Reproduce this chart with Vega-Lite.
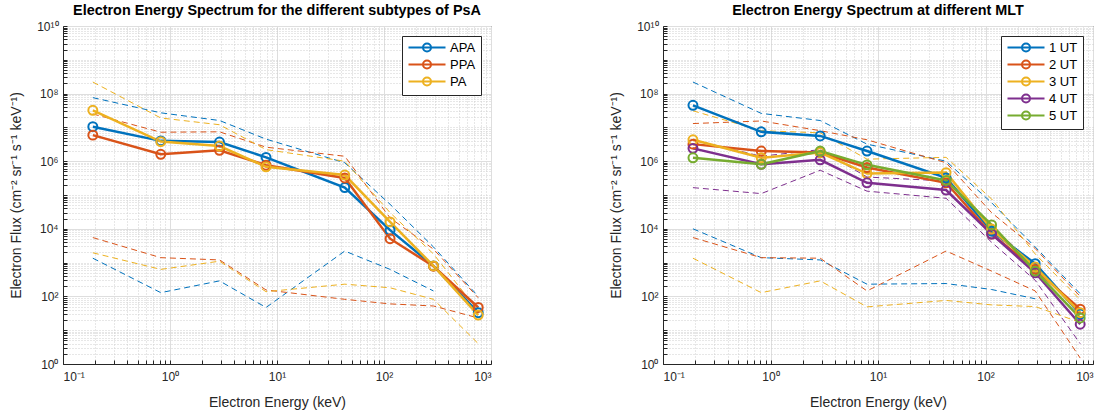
{
  "$schema": "https://vega.github.io/schema/vega-lite/v6.json",
  "padding": {"left": 9, "top": 2, "right": 0, "bottom": 2},
  "spacing": 117,
  "background": "white",
  "config": {
    "font": "Liberation Sans",
    "view": {"stroke": "#262626", "strokeWidth": 1},
    "axis": {"labelFontSize": 12, "titleFontSize": 14, "titleFontWeight": "normal", "labelColor": "#262626", "titleColor": "#262626", "domainColor": "#262626", "ticks": true, "tickSize": -4, "tickColor": "#262626", "labelOverlap": false, "labelPadding": 9},
    "title": {"fontSize": 14.4, "fontWeight": "bold", "color": "#000000", "offset": 2},
    "legend": {"orient": "top-right", "offset": 10, "fillColor": "white", "strokeColor": "#262626", "padding": 5, "symbolType": "M-1,0L6.4,0M3.5,0A0.8,0.8 0 1,1 1.9,0A0.8,0.8 0 1,1 3.5,0", "symbolSize": 100, "symbolStrokeWidth": 2, "symbolFillColor": "transparent", "labelOffset": 30, "labelFontSize": 13, "labelColor": "#000000", "rowPadding": 0}
  },
  "datasets": {
    "L": [
      {"s":"APA","k":"mean","e":0.19,"f":1.05e7},{"s":"APA","k":"mean","e":0.82,"f":4e6},{"s":"APA","k":"mean","e":2.9,"f":3.7e6},{"s":"APA","k":"mean","e":7.9,"f":1.3e6},{"s":"APA","k":"mean","e":43,"f":1.66e5},{"s":"APA","k":"mean","e":114,"f":9.1e3},{"s":"APA","k":"mean","e":290,"f":800},{"s":"APA","k":"mean","e":760,"f":33},
      {"s":"PPA","k":"mean","e":0.19,"f":5.9e6},{"s":"PPA","k":"mean","e":0.82,"f":1.6e6},{"s":"PPA","k":"mean","e":2.9,"f":2.1e6},{"s":"PPA","k":"mean","e":7.9,"f":7.6e5},{"s":"PPA","k":"mean","e":43,"f":3.2e5},{"s":"PPA","k":"mean","e":114,"f":5.1e3},{"s":"PPA","k":"mean","e":290,"f":780},{"s":"PPA","k":"mean","e":760,"f":47},
      {"s":"PA","k":"mean","e":0.19,"f":3.2e7},{"s":"PA","k":"mean","e":0.82,"f":3.8e6},{"s":"PA","k":"mean","e":2.9,"f":2.8e6},{"s":"PA","k":"mean","e":7.9,"f":6.8e5},{"s":"PA","k":"mean","e":43,"f":3.9e5},{"s":"PA","k":"mean","e":114,"f":1.6e4},{"s":"PA","k":"mean","e":290,"f":800},{"s":"PA","k":"mean","e":760,"f":28},
      {"s":"APA","k":"hi","e":0.19,"f":7.6e7},{"s":"APA","k":"hi","e":0.82,"f":2.7e7},{"s":"APA","k":"hi","e":2.9,"f":1.6e7},{"s":"APA","k":"hi","e":7.9,"f":4.5e6},{"s":"APA","k":"hi","e":43,"f":9e5},{"s":"APA","k":"hi","e":114,"f":5.3e4},{"s":"APA","k":"hi","e":290,"f":2.9e3},{"s":"APA","k":"hi","e":760,"f":100},
      {"s":"PPA","k":"hi","e":0.19,"f":2.5e7},{"s":"PPA","k":"hi","e":0.82,"f":7.2e6},{"s":"PPA","k":"hi","e":2.9,"f":7.4e6},{"s":"PPA","k":"hi","e":7.9,"f":2.6e6},{"s":"PPA","k":"hi","e":43,"f":1.4e6},{"s":"PPA","k":"hi","e":114,"f":2.1e4},{"s":"PPA","k":"hi","e":290,"f":2.5e3},{"s":"PPA","k":"hi","e":760,"f":91},
      {"s":"PA","k":"hi","e":0.19,"f":2.2e8},{"s":"PA","k":"hi","e":0.82,"f":1.9e7},{"s":"PA","k":"hi","e":2.9,"f":1.2e7},{"s":"PA","k":"hi","e":7.9,"f":2.2e6},{"s":"PA","k":"hi","e":43,"f":1e6},{"s":"PA","k":"hi","e":114,"f":3e4},{"s":"PA","k":"hi","e":290,"f":1.8e3},{"s":"PA","k":"hi","e":760,"f":37},
      {"s":"APA","k":"lo","e":0.19,"f":1.35e3},{"s":"APA","k":"lo","e":0.82,"f":129},{"s":"APA","k":"lo","e":2.9,"f":288},{"s":"APA","k":"lo","e":7.9,"f":47},{"s":"APA","k":"lo","e":43,"f":2.2e3},{"s":"APA","k":"lo","e":114,"f":630},{"s":"APA","k":"lo","e":290,"f":145},
      {"s":"PPA","k":"lo","e":0.19,"f":5.5e3},{"s":"PPA","k":"lo","e":0.82,"f":1.4e3},{"s":"PPA","k":"lo","e":2.9,"f":1.2e3},{"s":"PPA","k":"lo","e":7.9,"f":155},{"s":"PPA","k":"lo","e":43,"f":82},{"s":"PPA","k":"lo","e":114,"f":60},{"s":"PPA","k":"lo","e":290,"f":52},{"s":"PPA","k":"lo","e":760,"f":23},
      {"s":"PA","k":"lo","e":0.19,"f":1.95e3},{"s":"PA","k":"lo","e":0.82,"f":630},{"s":"PA","k":"lo","e":2.9,"f":1.1e3},{"s":"PA","k":"lo","e":7.9,"f":138},{"s":"PA","k":"lo","e":43,"f":230},{"s":"PA","k":"lo","e":114,"f":180},{"s":"PA","k":"lo","e":290,"f":82},{"s":"PA","k":"lo","e":760,"f":4}
    ],
    "R": [
      {"s":"1 UT","k":"mean","e":0.19,"f":4.5e7},{"s":"1 UT","k":"mean","e":0.82,"f":7.4e6},{"s":"1 UT","k":"mean","e":2.9,"f":5.6e6},{"s":"1 UT","k":"mean","e":7.9,"f":2e6},{"s":"1 UT","k":"mean","e":43,"f":3.2e5},{"s":"1 UT","k":"mean","e":114,"f":8.5e3},{"s":"1 UT","k":"mean","e":290,"f":930},{"s":"1 UT","k":"mean","e":760,"f":30},
      {"s":"2 UT","k":"mean","e":0.19,"f":3.2e6},{"s":"2 UT","k":"mean","e":0.82,"f":2e6},{"s":"2 UT","k":"mean","e":2.9,"f":1.8e6},{"s":"2 UT","k":"mean","e":7.9,"f":6.5e5},{"s":"2 UT","k":"mean","e":43,"f":2.3e5},{"s":"2 UT","k":"mean","e":114,"f":7e3},{"s":"2 UT","k":"mean","e":290,"f":630},{"s":"2 UT","k":"mean","e":760,"f":42},
      {"s":"3 UT","k":"mean","e":0.19,"f":4.3e6},{"s":"3 UT","k":"mean","e":0.82,"f":1.26e6},{"s":"3 UT","k":"mean","e":2.9,"f":1.8e6},{"s":"3 UT","k":"mean","e":7.9,"f":4.3e5},{"s":"3 UT","k":"mean","e":43,"f":4.6e5},{"s":"3 UT","k":"mean","e":114,"f":9.8e3},{"s":"3 UT","k":"mean","e":290,"f":740},{"s":"3 UT","k":"mean","e":760,"f":33},
      {"s":"4 UT","k":"mean","e":0.19,"f":2.4e6},{"s":"4 UT","k":"mean","e":0.82,"f":8.1e5},{"s":"4 UT","k":"mean","e":2.9,"f":1.1e6},{"s":"4 UT","k":"mean","e":7.9,"f":2.3e5},{"s":"4 UT","k":"mean","e":43,"f":1.4e5},{"s":"4 UT","k":"mean","e":114,"f":7e3},{"s":"4 UT","k":"mean","e":290,"f":500},{"s":"4 UT","k":"mean","e":760,"f":15},
      {"s":"5 UT","k":"mean","e":0.19,"f":1.26e6},{"s":"5 UT","k":"mean","e":0.82,"f":8.1e5},{"s":"5 UT","k":"mean","e":2.9,"f":2e6},{"s":"5 UT","k":"mean","e":7.9,"f":7.8e5},{"s":"5 UT","k":"mean","e":43,"f":2.7e5},{"s":"5 UT","k":"mean","e":114,"f":1.3e4},{"s":"5 UT","k":"mean","e":290,"f":560},{"s":"5 UT","k":"mean","e":760,"f":23},
      {"s":"1 UT","k":"hi","e":0.19,"f":2.2e8},{"s":"1 UT","k":"hi","e":0.82,"f":2.6e7},{"s":"1 UT","k":"hi","e":2.9,"f":1.6e7},{"s":"1 UT","k":"hi","e":7.9,"f":3.2e6},{"s":"1 UT","k":"hi","e":43,"f":1e6},{"s":"1 UT","k":"hi","e":114,"f":5.9e4},{"s":"1 UT","k":"hi","e":290,"f":2.9e3},{"s":"1 UT","k":"hi","e":760,"f":120},
      {"s":"2 UT","k":"hi","e":0.19,"f":1.3e7},{"s":"2 UT","k":"hi","e":0.82,"f":1.55e7},{"s":"2 UT","k":"hi","e":2.9,"f":8e6},{"s":"2 UT","k":"hi","e":7.9,"f":4.3e6},{"s":"2 UT","k":"hi","e":43,"f":9e5},{"s":"2 UT","k":"hi","e":114,"f":3e4},{"s":"2 UT","k":"hi","e":290,"f":2.6e3},{"s":"2 UT","k":"hi","e":760,"f":100},
      {"s":"3 UT","k":"hi","e":0.19,"f":3.1e7},{"s":"3 UT","k":"hi","e":0.82,"f":8e6},{"s":"3 UT","k":"hi","e":2.9,"f":6.9e6},{"s":"3 UT","k":"hi","e":7.9,"f":1.15e6},{"s":"3 UT","k":"hi","e":43,"f":1.3e6},{"s":"3 UT","k":"hi","e":114,"f":7.6e4},{"s":"3 UT","k":"hi","e":290,"f":1.8e3},{"s":"3 UT","k":"hi","e":760,"f":80},
      {"s":"4 UT","k":"hi","e":0.19,"f":4.3e6},{"s":"4 UT","k":"hi","e":0.82,"f":1.4e6},{"s":"4 UT","k":"hi","e":2.9,"f":2.2e6},{"s":"4 UT","k":"hi","e":7.9,"f":3.4e5},{"s":"4 UT","k":"hi","e":43,"f":2.6e5},{"s":"4 UT","k":"hi","e":114,"f":1.2e4},{"s":"4 UT","k":"hi","e":290,"f":800},{"s":"4 UT","k":"hi","e":760,"f":30},
      {"s":"1 UT","k":"lo","e":0.19,"f":1e4},{"s":"1 UT","k":"lo","e":0.82,"f":1.4e3},{"s":"1 UT","k":"lo","e":2.9,"f":1.2e3},{"s":"1 UT","k":"lo","e":7.9,"f":230},{"s":"1 UT","k":"lo","e":43,"f":240},{"s":"1 UT","k":"lo","e":114,"f":160},{"s":"1 UT","k":"lo","e":290,"f":85},
      {"s":"2 UT","k":"lo","e":0.19,"f":5.5e3},{"s":"2 UT","k":"lo","e":0.82,"f":1.4e3},{"s":"2 UT","k":"lo","e":2.9,"f":1.35e3},{"s":"2 UT","k":"lo","e":7.9,"f":145},{"s":"2 UT","k":"lo","e":43,"f":2.2e3},{"s":"2 UT","k":"lo","e":114,"f":560},{"s":"2 UT","k":"lo","e":290,"f":145},{"s":"2 UT","k":"lo","e":760,"f":1.5},
      {"s":"3 UT","k":"lo","e":0.19,"f":1.35e3},{"s":"3 UT","k":"lo","e":0.82,"f":129},{"s":"3 UT","k":"lo","e":2.9,"f":288},{"s":"3 UT","k":"lo","e":7.9,"f":49},{"s":"3 UT","k":"lo","e":43,"f":76},{"s":"3 UT","k":"lo","e":114,"f":56},{"s":"3 UT","k":"lo","e":290,"f":50},{"s":"3 UT","k":"lo","e":760,"f":17},
      {"s":"4 UT","k":"lo","e":0.19,"f":1.65e5},{"s":"4 UT","k":"lo","e":0.82,"f":1.1e5},{"s":"4 UT","k":"lo","e":2.9,"f":5.4e5},{"s":"4 UT","k":"lo","e":7.9,"f":1.3e5},{"s":"4 UT","k":"lo","e":43,"f":8e4},{"s":"4 UT","k":"lo","e":114,"f":4e3},{"s":"4 UT","k":"lo","e":290,"f":300},{"s":"4 UT","k":"lo","e":760,"f":4}
    ]
  },
  "hconcat": [
    {
      "width": 428, "height": 338,
      "title": "Electron Energy Spectrum for the different subtypes of PsA",
      "data": {"name": "L"},
      "encoding": {
        "x": {"field": "e", "type": "quantitative", "scale": {"type": "log", "domain": [0.1, 1000], "nice": false},
          "axis": {"title": "Electron Energy (keV)", "titlePadding": 13, "labelPadding": 11,
            "values": [0.1,0.2,0.3,0.4,0.5,0.6,0.7,0.8,0.9,1,2,3,4,5,6,7,8,9,10,20,30,40,50,60,70,80,90,100,200,300,400,500,600,700,800,900,1000],
            "labelExpr": "abs(log(datum.value)/LN10 - round(log(datum.value)/LN10)) < 1e-6 ? '10' + ['⁻¹','⁰','¹','²','³'][round(log(datum.value)/LN10)+1] : ''",
            "gridDash": {"condition": {"test": "abs(log(datum.value)/LN10 - round(log(datum.value)/LN10)) < 1e-6", "value": []}, "value": [1, 2]},
            "gridColor": {"condition": {"test": "abs(log(datum.value)/LN10 - round(log(datum.value)/LN10)) < 1e-6", "value": "#dedede"}, "value": "#cfcfcf"}}},
        "y": {"field": "f", "type": "quantitative", "scale": {"type": "log", "domain": [1, 1e10], "nice": false},
          "axis": {"title": "Electron Flux (cm⁻² sr⁻¹ s⁻¹ keV⁻¹)", "titlePadding": 13,
            "values": [1,2,3,4,5,6,7,8,9,10,20,30,40,50,60,70,80,90,100,200,300,400,500,600,700,800,900,1000,2000,3000,4000,5000,6000,7000,8000,9000,1e4,2e4,3e4,4e4,5e4,6e4,7e4,8e4,9e4,1e5,2e5,3e5,4e5,5e5,6e5,7e5,8e5,9e5,1e6,2e6,3e6,4e6,5e6,6e6,7e6,8e6,9e6,1e7,2e7,3e7,4e7,5e7,6e7,7e7,8e7,9e7,1e8,2e8,3e8,4e8,5e8,6e8,7e8,8e8,9e8,1e9,2e9,3e9,4e9,5e9,6e9,7e9,8e9,9e9,1e10],
            "labelExpr": "abs(log(datum.value)/LN10/2 - round(log(datum.value)/LN10/2)) < 1e-6 ? '10' + ['⁰','¹','²','³','⁴','⁵','⁶','⁷','⁸','⁹','¹⁰'][round(log(datum.value)/LN10)] : ''",
            "gridDash": {"condition": {"test": "abs(log(datum.value)/LN10/2 - round(log(datum.value)/LN10/2)) < 1e-6", "value": []}, "value": [1, 2]},
            "gridColor": {"condition": {"test": "abs(log(datum.value)/LN10/2 - round(log(datum.value)/LN10/2)) < 1e-6", "value": "#dedede"}, "value": "#cfcfcf"}}}
      },
      "layer": [
        {"transform": [{"filter": "datum.k !== 'mean' && datum.s === 'APA'"}], "mark": {"type": "line", "strokeWidth": 1, "strokeDash": [6, 4], "stroke": "#0072BD"}, "encoding": {"detail": {"field": "k"}}},
        {"transform": [{"filter": "datum.k !== 'mean' && datum.s === 'PPA'"}], "mark": {"type": "line", "strokeWidth": 1, "strokeDash": [6, 4], "stroke": "#D95319"}, "encoding": {"detail": {"field": "k"}}},
        {"transform": [{"filter": "datum.k !== 'mean' && datum.s === 'PA'"}], "mark": {"type": "line", "strokeWidth": 1, "strokeDash": [6, 4], "stroke": "#EDB120"}, "encoding": {"detail": {"field": "k"}}},
        {"transform": [{"filter": "datum.k === 'mean'"}],
         "mark": {"type": "line", "strokeWidth": 2.5, "point": {"filled": false, "size": 80, "strokeWidth": 2}},
         "encoding": {"color": {"field": "s", "type": "nominal", "scale": {"domain": ["APA","PPA","PA"], "range": ["#0072BD","#D95319","#EDB120"]}, "legend": {"title": null}}}}
      ]
    },
    {
      "width": 430, "height": 338,
      "title": "Electron Energy Spectrum at different MLT",
      "data": {"name": "R"},
      "encoding": {
        "x": {"field": "e", "type": "quantitative", "scale": {"type": "log", "domain": [0.1, 1000], "nice": false},
          "axis": {"title": "Electron Energy (keV)", "titlePadding": 13, "labelPadding": 11,
            "values": [0.1,0.2,0.3,0.4,0.5,0.6,0.7,0.8,0.9,1,2,3,4,5,6,7,8,9,10,20,30,40,50,60,70,80,90,100,200,300,400,500,600,700,800,900,1000],
            "labelExpr": "abs(log(datum.value)/LN10 - round(log(datum.value)/LN10)) < 1e-6 ? '10' + ['⁻¹','⁰','¹','²','³'][round(log(datum.value)/LN10)+1] : ''",
            "gridDash": {"condition": {"test": "abs(log(datum.value)/LN10 - round(log(datum.value)/LN10)) < 1e-6", "value": []}, "value": [1, 2]},
            "gridColor": {"condition": {"test": "abs(log(datum.value)/LN10 - round(log(datum.value)/LN10)) < 1e-6", "value": "#dedede"}, "value": "#cfcfcf"}}},
        "y": {"field": "f", "type": "quantitative", "scale": {"type": "log", "domain": [1, 1e10], "nice": false},
          "axis": {"title": "Electron Flux (cm⁻² sr⁻¹ s⁻¹ keV⁻¹)", "titlePadding": 13,
            "values": [1,2,3,4,5,6,7,8,9,10,20,30,40,50,60,70,80,90,100,200,300,400,500,600,700,800,900,1000,2000,3000,4000,5000,6000,7000,8000,9000,1e4,2e4,3e4,4e4,5e4,6e4,7e4,8e4,9e4,1e5,2e5,3e5,4e5,5e5,6e5,7e5,8e5,9e5,1e6,2e6,3e6,4e6,5e6,6e6,7e6,8e6,9e6,1e7,2e7,3e7,4e7,5e7,6e7,7e7,8e7,9e7,1e8,2e8,3e8,4e8,5e8,6e8,7e8,8e8,9e8,1e9,2e9,3e9,4e9,5e9,6e9,7e9,8e9,9e9,1e10],
            "labelExpr": "abs(log(datum.value)/LN10/2 - round(log(datum.value)/LN10/2)) < 1e-6 ? '10' + ['⁰','¹','²','³','⁴','⁵','⁶','⁷','⁸','⁹','¹⁰'][round(log(datum.value)/LN10)] : ''",
            "gridDash": {"condition": {"test": "abs(log(datum.value)/LN10/2 - round(log(datum.value)/LN10/2)) < 1e-6", "value": []}, "value": [1, 2]},
            "gridColor": {"condition": {"test": "abs(log(datum.value)/LN10/2 - round(log(datum.value)/LN10/2)) < 1e-6", "value": "#dedede"}, "value": "#cfcfcf"}}}
      },
      "layer": [
        {"transform": [{"filter": "datum.k !== 'mean' && datum.s === '1 UT'"}], "mark": {"type": "line", "strokeWidth": 1, "strokeDash": [6, 4], "stroke": "#0072BD"}, "encoding": {"detail": {"field": "k"}}},
        {"transform": [{"filter": "datum.k !== 'mean' && datum.s === '2 UT'"}], "mark": {"type": "line", "strokeWidth": 1, "strokeDash": [6, 4], "stroke": "#D95319"}, "encoding": {"detail": {"field": "k"}}},
        {"transform": [{"filter": "datum.k !== 'mean' && datum.s === '3 UT'"}], "mark": {"type": "line", "strokeWidth": 1, "strokeDash": [6, 4], "stroke": "#EDB120"}, "encoding": {"detail": {"field": "k"}}},
        {"transform": [{"filter": "datum.k !== 'mean' && datum.s === '4 UT'"}], "mark": {"type": "line", "strokeWidth": 1, "strokeDash": [6, 4], "stroke": "#7E2F8E"}, "encoding": {"detail": {"field": "k"}}},
        {"transform": [{"filter": "datum.k === 'mean'"}],
         "mark": {"type": "line", "strokeWidth": 2.5, "point": {"filled": false, "size": 80, "strokeWidth": 2}},
         "encoding": {"color": {"field": "s", "type": "nominal", "scale": {"domain": ["1 UT","2 UT","3 UT","4 UT","5 UT"], "range": ["#0072BD","#D95319","#EDB120","#7E2F8E","#77AC30"]}, "legend": {"title": null}}}}
      ]
    }
  ],
  "resolve": {"scale": {"color": "independent"}, "legend": {"color": "independent"}}
}
